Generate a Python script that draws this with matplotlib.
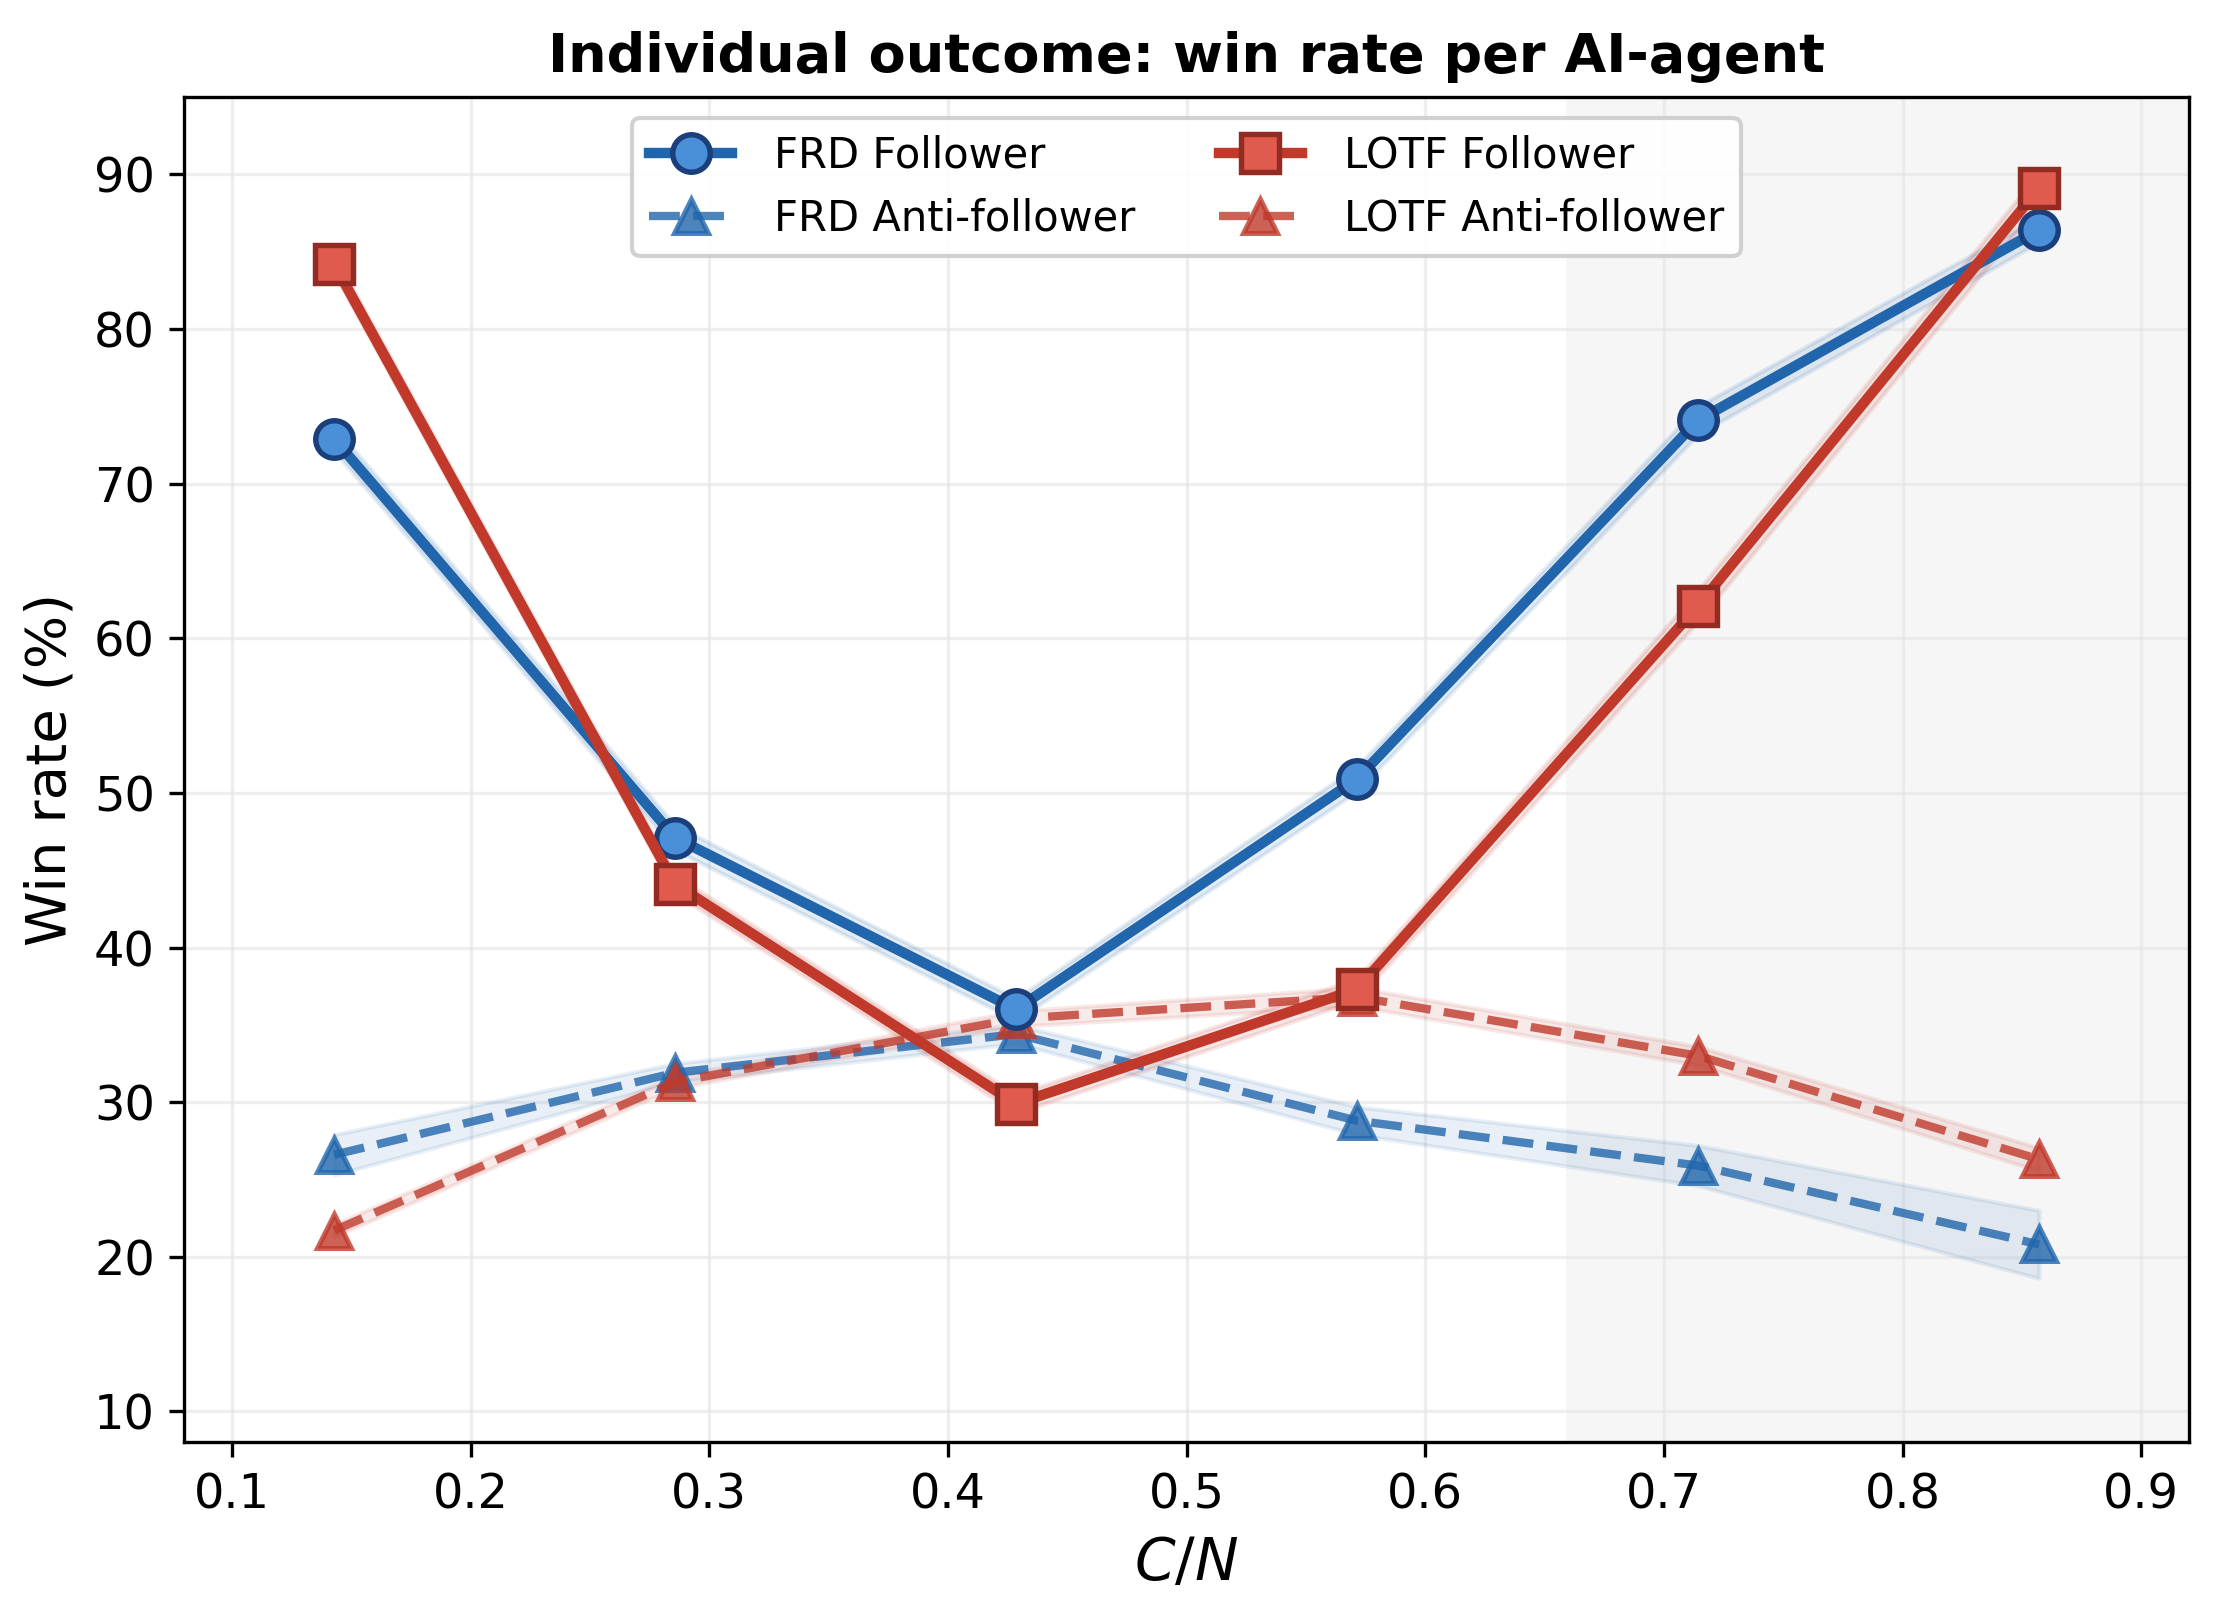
import matplotlib
matplotlib.use("Agg")
import matplotlib.pyplot as plt
import numpy as np

# C/N ratios (1/7 .. 6/7)
cn = [1 / 7, 2 / 7, 3 / 7, 4 / 7, 5 / 7, 6 / 7]

frd_follower = [72.9, 47.1, 36.0, 50.9, 74.1, 86.4]
frd_follower_err = [0.8, 0.8, 0.7, 0.8, 0.9, 0.8]
lotf_follower = [84.2, 44.1, 29.9, 37.3, 62.1, 89.1]
lotf_follower_err = [0.6, 0.6, 0.6, 0.7, 1.0, 1.0]
frd_anti = [26.6, 31.9, 34.4, 28.8, 25.9, 20.8]
frd_anti_err = [1.3, 0.6, 0.6, 0.9, 1.3, 2.2]
lotf_anti = [21.7, 31.3, 35.4, 36.8, 33.0, 26.3]
lotf_anti_err = [0.4, 0.4, 0.5, 0.6, 0.6, 0.75]

BLUE = "#2166ac"
RED = "#c0392b"

fig, ax = plt.subplots(figsize=(7.393, 5.39), dpi=300)
fig.subplots_adjust(left=0.083, right=0.987, top=0.94, bottom=0.108)

ax.axvspan(0.66, 0.95, color="#f6f6f6", zorder=0)

x = np.array(cn)


def band(y, err, color, alpha):
    y, err = np.array(y), np.array(err)
    ax.fill_between(x, y - err, y + err, color=color, alpha=alpha, zorder=1)


band(frd_follower, frd_follower_err, BLUE, 0.12)
band(lotf_follower, lotf_follower_err, RED, 0.12)
band(frd_anti, frd_anti_err, BLUE, 0.10)
band(lotf_anti, lotf_anti_err, RED, 0.10)

ax.plot(x, frd_follower, "-o", color=BLUE, lw=2.5, ms=9, mfc="#4a90d9",
        mec="#1a3f7a", mew=1.3, label="FRD Follower", zorder=4)
ax.plot(x, frd_anti, "--^", color=BLUE, lw=2.0, ms=8, alpha=0.8,
        mfc=BLUE, mec=BLUE, mew=1.2, label="FRD Anti-follower", zorder=3)
ax.plot(x, lotf_follower, "-s", color=RED, lw=2.5, ms=9, mfc="#e05a4e",
        mec="#922b21", mew=1.3, label="LOTF Follower", zorder=4)
ax.plot(x, lotf_anti, "--^", color=RED, lw=2.0, ms=8, alpha=0.8,
        mfc=RED, mec=RED, mew=1.2, label="LOTF Anti-follower", zorder=3)

ax.set_xlim(0.08, 0.92)
ax.set_ylim(8, 95)
ax.set_xticks(np.arange(0.1, 0.95, 0.1))
ax.set_yticks(np.arange(10, 95, 10))
ax.tick_params(labelsize=11.5)
ax.grid(True, color="#e4e4e4", alpha=0.6, lw=0.8)
ax.set_axisbelow(True)

ax.set_xlabel(r"$C/N$", fontsize=14)
ax.set_ylabel("Win rate (%)", fontsize=13.5)
ax.set_title("Individual outcome: win rate per AI-agent", fontsize=13,
             fontweight="bold")

ax.legend(loc="upper center", ncol=2, fontsize=10, framealpha=0.9,
          columnspacing=2.0, handlelength=2.0, handletextpad=1.0)

fig.savefig("out.png", dpi=300, facecolor="white")
